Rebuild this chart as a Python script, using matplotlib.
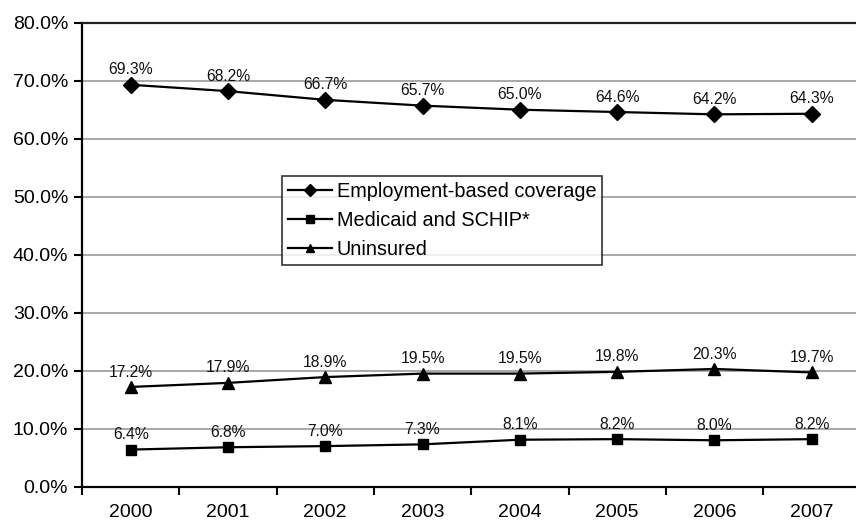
import matplotlib
matplotlib.use("Agg")
import matplotlib.pyplot as plt

years = ["2000", "2001", "2002", "2003", "2004", "2005", "2006", "2007"]
employment = [69.3, 68.2, 66.7, 65.7, 65.0, 64.6, 64.2, 64.3]
medicaid = [6.4, 6.8, 7.0, 7.3, 8.1, 8.2, 8.0, 8.2]
uninsured = [17.2, 17.9, 18.9, 19.5, 19.5, 19.8, 20.3, 19.7]
yticks = [0, 10, 20, 30, 40, 50, 60, 70, 80]

plt.rcParams['font.family'] = ['Liberation Sans', 'DejaVu Sans']

fig = plt.figure(figsize=(8.56, 5.24), dpi=100)
W, H = 856, 524
left, right = 82, 82 + 8 * 97.3
bottom, top = 486.7, 22.7
ax = fig.add_axes([left / W, 1 - bottom / H, (right - left) / W, (bottom - top) / H])

x = list(range(len(years)))
series = [
    (employment, "D", 8.5, "Employment-based coverage"),
    (medicaid, "s", 7.5, "Medicaid and SCHIP*"),
    (uninsured, "^", 9, "Uninsured"),
]
for vals, m, ms, lab in series:
    ax.plot(x, vals, color="black", lw=1.6, marker=m, markersize=ms, label=lab, zorder=3)
    for xi, v in zip(x, vals):
        ax.annotate(f"{v:.1f}%", (xi, v), xytext=(0, 7.5), textcoords="offset points",
                    ha="center", va="baseline", fontsize=11.3, color="#111111")

ax.set_xlim(-0.5, 7.5)
ax.set_ylim(0, 80)
ax.set_yticks(yticks)
ax.set_yticklabels([f"{t:.1f}%" for t in yticks], fontsize=14)
ax.yaxis.grid(True, color="#999999", lw=1.2)
ax.set_axisbelow(True)

ax.set_xticks([i + 0.5 for i in range(-1, 8)])
ax.set_xticklabels([])
ax.set_xticks(x, minor=True)
ax.set_xticklabels(years, minor=True, fontsize=14)
ax.tick_params(axis="x", which="minor", length=0, pad=12.5)
ax.tick_params(axis="x", which="major", length=6, width=1.5, direction="out")
ax.tick_params(axis="y", length=6, width=1.5, direction="out", pad=4)

for s in ["left", "bottom"]:
    ax.spines[s].set_linewidth(1.6)
ax.spines["right"].set_visible(False)
ax.spines["top"].set_linewidth(1.6)
ax.spines["top"].set_color("#222222")

leg = ax.legend(loc="upper left", bbox_to_anchor=((282 - left) / (right - left), 1 - (176 - top) / (bottom - top)),
                fontsize=14.3, frameon=True, fancybox=False, edgecolor="black",
                handlelength=2.2, handletextpad=0.25, borderpad=0.3, labelspacing=0.5,
                borderaxespad=0, markerscale=0.7)
leg.get_frame().set_linewidth(1.2)

fig.savefig("out.png", dpi=100)
